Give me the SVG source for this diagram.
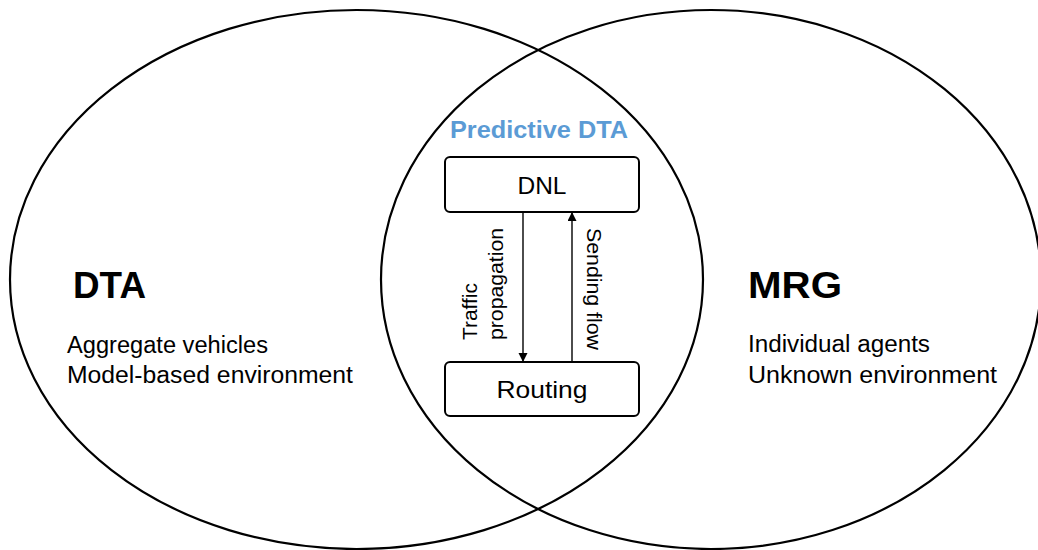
<svg xmlns="http://www.w3.org/2000/svg" width="1038" height="550" viewBox="0 0 1038 550">
<style>
.ell{fill:none;stroke:#000;stroke-width:2.2}
.box{fill:#fff;stroke:#000;stroke-width:2}
.t{font-family:"Liberation Sans",Arial,sans-serif;fill:#000}
.big{font-size:36px;font-weight:bold}
.body{font-size:23px}
.lbl{font-size:21px}
.conn{stroke:#000;stroke-width:1.4;fill:none}
</style>
<defs>
<marker id="ah" markerUnits="userSpaceOnUse" markerWidth="10" markerHeight="10" refX="9" refY="4.5" orient="auto">
<path d="M0,0 L9,4.5 L0,9 z" fill="#000"/>
</marker>
</defs>
<rect width="1038" height="550" fill="#fff"/>
<g id="dta-set">
<ellipse class="ell" cx="356.5" cy="279.5" rx="346.5" ry="269.5"/>
<text class="t big" x="73" y="298" textLength="73" lengthAdjust="spacingAndGlyphs">DTA</text>
<text class="t body" x="67" y="353" textLength="201" lengthAdjust="spacingAndGlyphs">Aggregate vehicles</text>
<text class="t body" x="67" y="383" textLength="286" lengthAdjust="spacingAndGlyphs">Model-based environment</text>
</g>
<g id="mrg-set">
<ellipse class="ell" cx="711" cy="279.5" rx="330" ry="269.5"/>
<text class="t big" x="748" y="298" textLength="94" lengthAdjust="spacingAndGlyphs">MRG</text>
<text class="t body" x="748" y="352" textLength="182" lengthAdjust="spacingAndGlyphs">Individual agents</text>
<text class="t body" x="748" y="383" textLength="249" lengthAdjust="spacingAndGlyphs">Unknown environment</text>
</g>
<g id="predictive-dta">
<text class="t" x="450" y="138" font-size="24" font-weight="bold" fill="#5B9BD5" style="fill:#5B9BD5" textLength="178" lengthAdjust="spacingAndGlyphs">Predictive DTA</text>
</g>
<g id="dnl">
<rect class="box" x="445" y="157" width="194" height="55" rx="5"/>
<text class="t" x="542" y="194" font-size="24" text-anchor="middle" textLength="49" lengthAdjust="spacingAndGlyphs">DNL</text>
</g>
<g id="routing">
<rect class="box" x="445" y="362" width="194" height="54" rx="5"/>
<text class="t" x="542" y="398" font-size="24" text-anchor="middle" textLength="91" lengthAdjust="spacingAndGlyphs">Routing</text>
</g>
<g id="connectors">
<line class="conn" x1="523" y1="212" x2="523" y2="362" marker-end="url(#ah)"/>
<line class="conn" x1="572" y1="362" x2="572" y2="212" marker-end="url(#ah)"/>
<text class="t lbl" transform="translate(477,340) rotate(-90)" textLength="57" lengthAdjust="spacingAndGlyphs">Traffic</text>
<text class="t lbl" transform="translate(503,340) rotate(-90)" textLength="112" lengthAdjust="spacingAndGlyphs">propagation</text>
<text class="t lbl" transform="translate(587,228) rotate(90)" textLength="122" lengthAdjust="spacingAndGlyphs">Sending flow</text>
</g>
</svg>
